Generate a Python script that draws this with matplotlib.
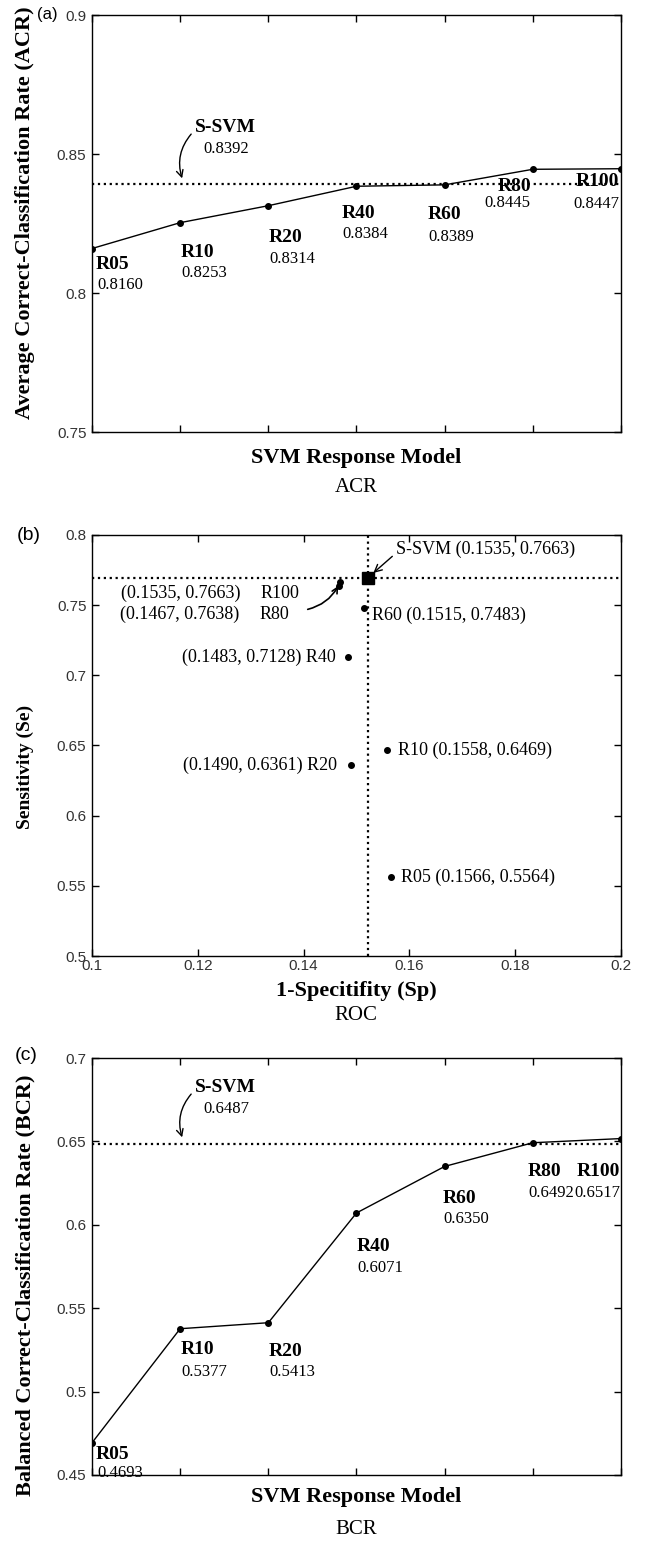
import matplotlib
matplotlib.use('Agg')
import matplotlib.pyplot as plt

# data
models = ['R05', 'R10', 'R20', 'R40', 'R60', 'R80', 'R100']
model_pos = [1, 2, 3, 4, 5, 6, 7]

acr = [0.8160, 0.8253, 0.8314, 0.8384, 0.8389, 0.8445, 0.8447]
acr_ssvm = 0.8392

bcr = [0.4693, 0.5377, 0.5413, 0.6071, 0.6350, 0.6492, 0.6517]
bcr_ssvm = 0.6487

# ROC points (1-Sp, Se) as drawn
roc_fpr = [0.1566, 0.1558, 0.1490, 0.1483, 0.1515, 0.1467, 0.1469]
roc_se = [0.5564, 0.6469, 0.6361, 0.7128, 0.7483, 0.7638, 0.7663]
roc_ssvm_fpr = 0.1522
roc_ssvm_se = 0.7697
roc_labels = ['(0.1566, 0.5564)', '(0.1558, 0.6469)', '(0.1490, 0.6361)',
              '(0.1483, 0.7128)', '(0.1515, 0.7483)', '(0.1467, 0.7638)',
              '(0.1535, 0.7663)']
roc_ssvm_label = '(0.1535, 0.7663)'

W, H = 645, 1541
SERIF = 'Liberation Serif'
SANS = 'Liberation Sans'
TICKC = '#333333'

fig = plt.figure(figsize=(W / 100, H / 100), dpi=100)


def fx(px):
    return px / W


def fy(py):
    return 1 - py / H


def style_axes(ax):
    ax.tick_params(direction='in', top=True, right=True, length=5, width=1,
                   labelsize=11, labelcolor=TICKC, pad=4)
    for lab in ax.get_xticklabels() + ax.get_yticklabels():
        lab.set_fontfamily(SANS)
    for sp in ax.spines.values():
        sp.set_linewidth(1)


def point_labels(ax, xs, ys, offs):
    # offs: (dx, dy_name, dy_value, ha) in pixels
    for i in range(len(xs)):
        dx, dyn, dyv, ha = offs[i]
        ax.annotate(models[i], (xs[i], ys[i]), xytext=(dx, dyn), textcoords='offset pixels',
                    ha=ha, va='center', fontsize=14, fontweight='bold', family=SERIF)
        ax.annotate('%.4f' % ys[i], (xs[i], ys[i]), xytext=(dx + (1 if ha == 'left' else 0), dyv),
                    textcoords='offset pixels', ha=ha, va='center', fontsize=12, family=SERIF)


def ssvm_label(value, ytop, yline):
    fig.text(fx(195), fy(ytop), 'S-SVM', fontsize=14, fontweight='bold', family=SERIF,
             ha='left', va='center')
    fig.text(fx(203), fy(ytop + 21), '%.4f' % value, fontsize=12, family=SERIF, va='center')
    fig.add_artist(plt.matplotlib.patches.FancyArrowPatch(
        (fx(193), fy(ytop + 4)), (fx(183), fy(yline - 3)), transform=fig.transFigure,
        arrowstyle='->', mutation_scale=12, color='black', lw=1,
        connectionstyle='arc3,rad=0.3'))


# ---------------- (a) ACR ----------------
axa = fig.add_axes([fx(92), fy(432), fx(621) - fx(92), (432 - 15) / H])
axa.plot(model_pos, acr, color='black', lw=1, marker='o', ms=4)
axa.axhline(acr_ssvm, color='black', ls=':', lw=1.6)
axa.set_xlim(1, 7)
axa.set_ylim(0.75, 0.9)
axa.set_xticks(model_pos)
axa.set_xticklabels([])
axa.set_yticks([0.75, 0.8, 0.85, 0.9])
axa.set_yticklabels(['0.75', '0.8', '0.85', '0.9'])
style_axes(axa)
offs_a = [(4, -16, -36, 'left'), (0, -30, -50, 'left'), (0, -32, -53, 'left'),
          (-15, -27, -48, 'left'), (-17, -30, -52, 'left'), (-2, -17, -34, 'right'),
          (-2, -13, -35, 'right')]
point_labels(axa, model_pos, acr, offs_a)
ssvm_label(acr_ssvm, 128, 184)
fig.text(fx(356), fy(458), 'SVM Response Model', fontsize=16, fontweight='bold',
         family=SERIF, ha='center', va='center')
fig.text(fx(356), fy(488), 'ACR', fontsize=15, family=SERIF, ha='center', va='center')
fig.text(fx(25), fy(213), 'Average Correct-Classification Rate (ACR)', rotation=90,
         fontsize=16, fontweight='bold', family=SERIF, ha='center', va='center')
fig.text(fx(37), fy(15), '(a)', fontsize=12, family=SANS, ha='left', va='center')

# ---------------- (b) ROC ----------------
axb = fig.add_axes([fx(92), fy(956), fx(621) - fx(92), (956 - 535) / H])
axb.plot(roc_fpr, roc_se, ls='none', marker='o', ms=4, color='black')
axb.plot([roc_ssvm_fpr], [roc_ssvm_se], ls='none', marker='s', ms=8, color='black')
axb.axhline(roc_ssvm_se, color='black', ls=':', lw=1.6)
axb.axvline(roc_ssvm_fpr, color='black', ls=':', lw=1.6)
axb.set_xlim(0.1, 0.2)
axb.set_ylim(0.5, 0.8)
axb.set_xticks([0.1, 0.12, 0.14, 0.16, 0.18, 0.2])
axb.set_xticklabels(['0.1', '0.12', '0.14', '0.16', '0.18', '0.2'])
axb.set_yticks([0.5, 0.55, 0.6, 0.65, 0.7, 0.75, 0.8])
axb.set_yticklabels(['0.5', '0.55', '0.6', '0.65', '0.7', '0.75', '0.8'])
style_axes(axb)
axb.tick_params(axis='x', pad=2)

fsb = 13
# R05, R10, R60 labels to the right; R20, R40 to the left
for i, (dx, dy, ha) in {0: (10, 0, 'left'), 1: (11, 0, 'left'), 4: (8, -8, 'left'),
                         2: (-14, 0, 'right'), 3: (-12, 0, 'right')}.items():
    if ha == 'left':
        txt = models[i] + ' ' + roc_labels[i]
    else:
        txt = roc_labels[i] + ' ' + models[i]
    axb.annotate(txt, (roc_fpr[i], roc_se[i]), xytext=(dx, dy), textcoords='offset pixels',
                 ha=ha, va='center', fontsize=fsb, family=SERIF)
# R100 / R80 block on the left
for i, dy in [(6, -11), (5, -29)]:
    axb.annotate(roc_labels[i], (roc_fpr[i], roc_se[i]), xytext=(-219, dy),
                 textcoords='offset pixels', ha='left', va='center', fontsize=fsb, family=SERIF)
    axb.annotate(models[i], (roc_fpr[i], roc_se[i]), xytext=(-80, dy),
                 textcoords='offset pixels', ha='left', va='center', fontsize=fsb, family=SERIF)
axb.annotate('', xy=(roc_fpr[6], roc_se[6]), xytext=(fx(305), fy(610)),
             textcoords='figure fraction',
             arrowprops=dict(arrowstyle='->', color='black', lw=1.2, shrinkB=3,
                             connectionstyle='arc3,rad=0.25'))
axb.annotate('S-SVM ' + roc_ssvm_label, (roc_ssvm_fpr, roc_ssvm_se), xytext=(28, 28),
             textcoords='offset pixels', ha='left', va='center', fontsize=fsb, family=SERIF,
             arrowprops=dict(arrowstyle='->', color='black', lw=1, shrinkA=1, shrinkB=5,
                             relpos=(0, 0.3)))
fig.text(fx(356), fy(991), '1-Specitifity (Sp)', fontsize=16, fontweight='bold',
         family=SERIF, ha='center', va='center')
fig.text(fx(356), fy(1016), 'ROC', fontsize=15, family=SERIF, ha='center', va='center')
fig.text(fx(25), fy(767), 'Sensitivity (Se)', rotation=90,
         fontsize=14, fontweight='bold', family=SERIF, ha='center', va='center')
fig.text(fx(17), fy(535), '(b)', fontsize=14, family=SANS, ha='left', va='center')

# ---------------- (c) BCR ----------------
axc = fig.add_axes([fx(92), fy(1475), fx(621) - fx(92), (1475 - 1058) / H])
axc.plot(model_pos, bcr, color='black', lw=1, marker='o', ms=4)
axc.axhline(bcr_ssvm, color='black', ls=':', lw=1.6)
axc.set_xlim(1, 7)
axc.set_ylim(0.45, 0.7)
axc.set_xticks(model_pos)
axc.set_xticklabels([])
axc.set_yticks([0.45, 0.5, 0.55, 0.6, 0.65, 0.7])
axc.set_yticklabels(['0.45', '0.5', '0.55', '0.6', '0.65', '0.7'])
style_axes(axc)
offs_c = [(4, -12, -30, 'left'), (0, -21, -43, 'left'), (0, -29, -49, 'left'),
          (0, -34, -55, 'left'), (-2, -32, -53, 'left'), (-5, -29, -50, 'left'),
          (-1, -33, -54, 'right')]
point_labels(axc, model_pos, bcr, offs_c)
ssvm_label(bcr_ssvm, 1088, 1143)
fig.text(fx(356), fy(1497), 'SVM Response Model', fontsize=16, fontweight='bold',
         family=SERIF, ha='center', va='center')
fig.text(fx(356), fy(1530), 'BCR', fontsize=15, family=SERIF, ha='center', va='center')
fig.text(fx(25), fy(1285), 'Balanced Correct-Classification Rate (BCR)', rotation=90,
         fontsize=16, fontweight='bold', family=SERIF, ha='center', va='center')
fig.text(fx(15), fy(1056), '(c)', fontsize=14, family=SANS, ha='left', va='center')

fig.savefig('out.png', dpi=100)
